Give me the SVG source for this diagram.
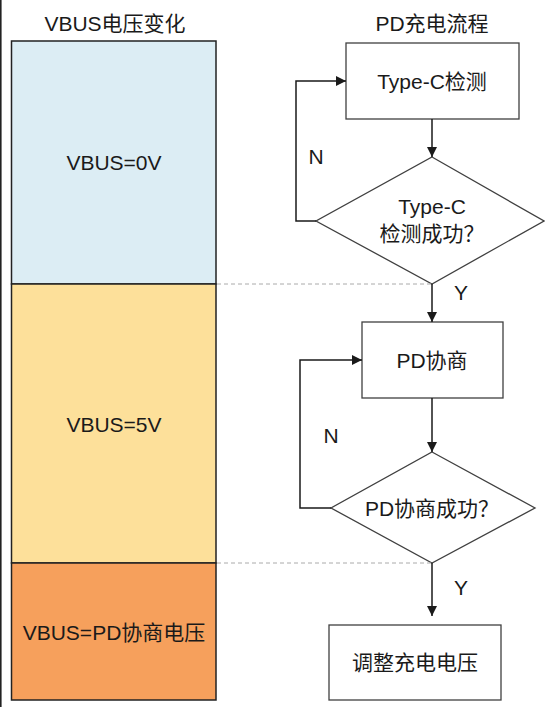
<svg xmlns="http://www.w3.org/2000/svg" width="545" height="707" viewBox="0 0 545 707">
<defs>
<style>
.t{font-family:"Liberation Sans","Noto Sans CJK SC",sans-serif;font-size:21px;fill:#1a1a1a;text-anchor:middle}
.box{fill:#fff;stroke:#404040;stroke-width:1.3}
.c{fill:none;stroke:#1a1a1a;stroke-width:1.5}
.d{fill:none;stroke:#aaa;stroke-width:1;stroke-dasharray:4,3}
</style>
<marker id="ah" viewBox="0 0 10 10" refX="10" refY="5" markerWidth="10" markerHeight="10" markerUnits="userSpaceOnUse" orient="auto">
<path d="M0,0 L10,5 L0,10 z" fill="#1a1a1a"/>
</marker>
</defs>
<rect width="545" height="707" fill="#fff"/>
<line x1="0.8" y1="0" x2="0.8" y2="707" stroke="#222" stroke-width="1.6"/>
<g id="titles">
<text class="t" x="115" y="31">VBUS电压变化</text>
<text class="t" x="432" y="31">PD充电流程</text>
</g>
<g id="vbus0">
<rect x="11.5" y="41" width="204.5" height="243" fill="#dcedf4" stroke="#222" stroke-width="1.5"/>
<text class="t" x="114" y="170">VBUS=0V</text>
</g>
<g id="vbus5">
<rect x="11.5" y="284" width="204.5" height="279" fill="#fde09a" stroke="#222" stroke-width="1.5"/>
<text class="t" x="114" y="432">VBUS=5V</text>
</g>
<g id="vbuspd">
<rect x="11.5" y="563" width="204.5" height="137" fill="#f6a05c" stroke="#222" stroke-width="1.5"/>
<text class="t" x="114" y="640">VBUS=PD协商电压</text>
</g>
<g id="typec">
<rect class="box" x="346" y="43" width="173" height="76"/>
<text class="t" x="432" y="89">Type-C检测</text>
</g>
<g id="typec-ok">
<path class="box" d="M432,157 L544,221 L432,284 L316,221 Z"/>
<text class="t" x="432" y="214">Type-C</text>
<text class="t" x="432" y="241">检测成功？</text>
</g>
<g id="pd">
<rect class="box" x="362" y="322" width="141" height="76"/>
<text class="t" x="432" y="368">PD协商</text>
</g>
<g id="pd-ok">
<path class="box" d="M432,452 L535,508 L432,563 L331,508 Z"/>
<text class="t" x="432" y="516">PD协商成功？</text>
</g>
<g id="adjust">
<rect class="box" x="329" y="625" width="172" height="75"/>
<text class="t" x="415" y="670">调整充电电压</text>
</g>
<g id="connectors">
<line class="d" x1="217" y1="284" x2="432" y2="284"/>
<line class="d" x1="217" y1="563" x2="432" y2="563"/>
<line class="c" x1="432" y1="119" x2="432" y2="157" marker-end="url(#ah)"/>
<polyline class="c" points="316,221 296,221 296,81 346,81" marker-end="url(#ah)"/>
<line class="c" x1="432" y1="284" x2="432" y2="322" marker-end="url(#ah)"/>
<line class="c" x1="432" y1="398" x2="432" y2="452" marker-end="url(#ah)"/>
<polyline class="c" points="331,508 300,508 300,360 362,360" marker-end="url(#ah)"/>
<line class="c" x1="432" y1="563" x2="432" y2="616" marker-end="url(#ah)"/>
<text class="t" x="316" y="164">N</text>
<text class="t" x="461" y="300">Y</text>
<text class="t" x="331" y="443">N</text>
<text class="t" x="461" y="595">Y</text>
</g>
</svg>
